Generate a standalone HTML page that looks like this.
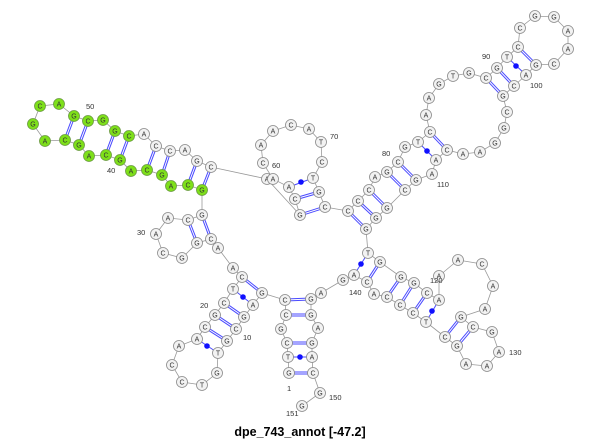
<!DOCTYPE html>
<html><head><meta charset="utf-8"><style>
html,body{margin:0;padding:0;background:#fff;}
svg{display:block;}
.n circle{fill:#f2f2f2;stroke:#8a8a8a;stroke-width:0.8;}
.g circle{fill:#7ee01a;stroke:#6a9a40;stroke-width:0.8;}
text{font-family:"Liberation Sans",sans-serif;}
.n text,.g text{font-size:7px;text-anchor:middle;fill:#333;}
.l{font-size:7.5px;fill:#333;}
</style></head><body>
<svg width="600" height="440" viewBox="0 0 600 440">
<polyline fill="none" stroke="#999" stroke-width="0.8" points="289,373 288,357 287,343 281,329 286,315 285,300 262,293 253,305 244,317 236,329 227,341 218,353 217,373 202,385 182,382 172,365 179,346 197,339 205,327 215,315 224,303 233,289 242,277 233,268 218,248 211,239 197,243 182,258 163,253 156,234 168,218 188,220 202,215 202,190 188,185 171,186 162,175 147,170 131,171 120,160 106,155 89,156 79,145 65,140 45,141 33,124 40,106 59,104 74,116 88,121 103,120 115,131 129,136 144,134 156,146 170,151 185,150 197,161 211,167 267,179 300,215 295,199 289,187 273,179 263,163 261,145 273,131 291,125 309,129 321,142 322,162 313,178 319,192 325,207 348,211 358,201 369,190 375,177 387,172 398,162 405,147 418,142 430,132 426,115 429,98 439,84 453,76 469,73 486,78 497,68 507,57 518,47 520,28 535,16 554,17 568,31 568,49 554,64 536,65 526,75 514,86 503,96 507,112 504,128 495,143 480,152 463,154 447,150 436,160 432,174 416,180 405,190 387,208 376,218 366,229 368,253 380,262 401,277 414,283 427,293 439,300 439,276 458,260 482,264 493,286 485,309 461,317 473,327 492,332 499,352 487,366 466,364 457,346 445,337 426,322 413,313 400,305 387,297 374,294 367,282 354,275 343,280 321,293 311,299 311,315 318,328 312,343 312,357 313,373 320,393 302,406"/>
<g stroke="#4a4aff" stroke-width="3">
<line x1="74" y1="116" x2="65" y2="140"/><line x1="88" y1="121" x2="79" y2="145"/><line x1="115" y1="131" x2="106" y2="155"/><line x1="129" y1="136" x2="120" y2="160"/><line x1="156" y1="146" x2="147" y2="170"/><line x1="170" y1="151" x2="162" y2="175"/><line x1="197" y1="161" x2="188" y2="185"/><line x1="211" y1="167" x2="202" y2="190"/>
<line x1="188" y1="220" x2="197" y2="243"/><line x1="202" y1="215" x2="211" y2="239"/>
<line x1="242" y1="277" x2="262" y2="293"/><line x1="224" y1="303" x2="244" y2="317"/><line x1="215" y1="315" x2="236" y2="329"/><line x1="205" y1="327" x2="227" y2="341"/>
<line x1="285" y1="300" x2="311" y2="299"/><line x1="286" y1="315" x2="311" y2="315"/><line x1="287" y1="343" x2="312" y2="343"/><line x1="289" y1="373" x2="313" y2="373"/>
<line x1="295" y1="199" x2="319" y2="192"/><line x1="300" y1="215" x2="325" y2="207"/>
<line x1="348" y1="211" x2="366" y2="229"/><line x1="358" y1="201" x2="376" y2="218"/><line x1="369" y1="190" x2="387" y2="208"/><line x1="387" y1="172" x2="405" y2="190"/><line x1="398" y1="162" x2="416" y2="180"/><line x1="430" y1="132" x2="447" y2="150"/>
<line x1="486" y1="78" x2="503" y2="96"/><line x1="497" y1="68" x2="514" y2="86"/><line x1="518" y1="47" x2="536" y2="65"/>
<line x1="380" y1="262" x2="367" y2="282"/><line x1="401" y1="277" x2="387" y2="297"/><line x1="414" y1="283" x2="400" y2="305"/><line x1="427" y1="293" x2="413" y2="313"/>
<line x1="461" y1="317" x2="445" y2="337"/><line x1="473" y1="327" x2="457" y2="346"/>
</g>
<g stroke="#fff" stroke-width="1">
<line x1="74" y1="116" x2="65" y2="140"/><line x1="88" y1="121" x2="79" y2="145"/><line x1="115" y1="131" x2="106" y2="155"/><line x1="129" y1="136" x2="120" y2="160"/><line x1="156" y1="146" x2="147" y2="170"/><line x1="170" y1="151" x2="162" y2="175"/><line x1="197" y1="161" x2="188" y2="185"/><line x1="211" y1="167" x2="202" y2="190"/>
<line x1="188" y1="220" x2="197" y2="243"/><line x1="202" y1="215" x2="211" y2="239"/>
<line x1="242" y1="277" x2="262" y2="293"/><line x1="224" y1="303" x2="244" y2="317"/><line x1="215" y1="315" x2="236" y2="329"/><line x1="205" y1="327" x2="227" y2="341"/>
<line x1="285" y1="300" x2="311" y2="299"/><line x1="286" y1="315" x2="311" y2="315"/><line x1="287" y1="343" x2="312" y2="343"/><line x1="289" y1="373" x2="313" y2="373"/>
<line x1="295" y1="199" x2="319" y2="192"/><line x1="300" y1="215" x2="325" y2="207"/>
<line x1="348" y1="211" x2="366" y2="229"/><line x1="358" y1="201" x2="376" y2="218"/><line x1="369" y1="190" x2="387" y2="208"/><line x1="387" y1="172" x2="405" y2="190"/><line x1="398" y1="162" x2="416" y2="180"/><line x1="430" y1="132" x2="447" y2="150"/>
<line x1="486" y1="78" x2="503" y2="96"/><line x1="497" y1="68" x2="514" y2="86"/><line x1="518" y1="47" x2="536" y2="65"/>
<line x1="380" y1="262" x2="367" y2="282"/><line x1="401" y1="277" x2="387" y2="297"/><line x1="414" y1="283" x2="400" y2="305"/><line x1="427" y1="293" x2="413" y2="313"/>
<line x1="461" y1="317" x2="445" y2="337"/><line x1="473" y1="327" x2="457" y2="346"/>
</g>
<g stroke="#4a4aff" stroke-width="1" fill="#1010ff">
<line x1="233" y1="289" x2="253" y2="305"/><circle cx="243" cy="297" r="2.8" stroke="none"/>
<line x1="197" y1="339" x2="218" y2="353"/><circle cx="207" cy="346" r="2.8" stroke="none"/>
<line x1="288" y1="357" x2="312" y2="357"/><circle cx="300" cy="357" r="2.8" stroke="none"/>
<line x1="289" y1="187" x2="313" y2="178"/><circle cx="301" cy="182" r="2.8" stroke="none"/>
<line x1="418" y1="142" x2="436" y2="160"/><circle cx="427" cy="151" r="2.8" stroke="none"/>
<line x1="507" y1="57" x2="526" y2="75"/><circle cx="516" cy="66" r="2.8" stroke="none"/>
<line x1="368" y1="253" x2="354" y2="275"/><circle cx="361" cy="264" r="2.8" stroke="none"/>
<line x1="439" y1="300" x2="426" y2="322"/><circle cx="432" cy="311" r="2.8" stroke="none"/>
</g>
<g class="n">
<g transform="translate(289,373)"><circle r="5.5"/><text y="2.5">G</text></g>
<g transform="translate(288,357)"><circle r="5.5"/><text y="2.5">T</text></g>
<g transform="translate(287,343)"><circle r="5.5"/><text y="2.5">C</text></g>
<g transform="translate(281,329)"><circle r="5.5"/><text y="2.5">G</text></g>
<g transform="translate(286,315)"><circle r="5.5"/><text y="2.5">C</text></g>
<g transform="translate(285,300)"><circle r="5.5"/><text y="2.5">C</text></g>
<g transform="translate(262,293)"><circle r="5.5"/><text y="2.5">G</text></g>
<g transform="translate(253,305)"><circle r="5.5"/><text y="2.5">A</text></g>
<g transform="translate(244,317)"><circle r="5.5"/><text y="2.5">G</text></g>
<g transform="translate(236,329)"><circle r="5.5"/><text y="2.5">C</text></g>
<g transform="translate(227,341)"><circle r="5.5"/><text y="2.5">G</text></g>
<g transform="translate(218,353)"><circle r="5.5"/><text y="2.5">T</text></g>
<g transform="translate(217,373)"><circle r="5.5"/><text y="2.5">G</text></g>
<g transform="translate(202,385)"><circle r="5.5"/><text y="2.5">T</text></g>
<g transform="translate(182,382)"><circle r="5.5"/><text y="2.5">C</text></g>
<g transform="translate(172,365)"><circle r="5.5"/><text y="2.5">C</text></g>
<g transform="translate(179,346)"><circle r="5.5"/><text y="2.5">A</text></g>
<g transform="translate(197,339)"><circle r="5.5"/><text y="2.5">A</text></g>
<g transform="translate(205,327)"><circle r="5.5"/><text y="2.5">C</text></g>
<g transform="translate(215,315)"><circle r="5.5"/><text y="2.5">G</text></g>
<g transform="translate(224,303)"><circle r="5.5"/><text y="2.5">C</text></g>
<g transform="translate(233,289)"><circle r="5.5"/><text y="2.5">T</text></g>
<g transform="translate(242,277)"><circle r="5.5"/><text y="2.5">C</text></g>
<g transform="translate(233,268)"><circle r="5.5"/><text y="2.5">A</text></g>
<g transform="translate(218,248)"><circle r="5.5"/><text y="2.5">A</text></g>
<g transform="translate(211,239)"><circle r="5.5"/><text y="2.5">C</text></g>
<g transform="translate(197,243)"><circle r="5.5"/><text y="2.5">G</text></g>
<g transform="translate(182,258)"><circle r="5.5"/><text y="2.5">G</text></g>
<g transform="translate(163,253)"><circle r="5.5"/><text y="2.5">C</text></g>
<g transform="translate(156,234)"><circle r="5.5"/><text y="2.5">A</text></g>
<g transform="translate(168,218)"><circle r="5.5"/><text y="2.5">A</text></g>
<g transform="translate(188,220)"><circle r="5.5"/><text y="2.5">C</text></g>
<g transform="translate(202,215)"><circle r="5.5"/><text y="2.5">G</text></g>
<g transform="translate(144,134)"><circle r="5.5"/><text y="2.5">A</text></g>
<g transform="translate(156,146)"><circle r="5.5"/><text y="2.5">C</text></g>
<g transform="translate(170,151)"><circle r="5.5"/><text y="2.5">C</text></g>
<g transform="translate(185,150)"><circle r="5.5"/><text y="2.5">A</text></g>
<g transform="translate(197,161)"><circle r="5.5"/><text y="2.5">G</text></g>
<g transform="translate(211,167)"><circle r="5.5"/><text y="2.5">C</text></g>
<g transform="translate(267,179)"><circle r="5.5"/><text y="2.5">A</text></g>
<g transform="translate(300,215)"><circle r="5.5"/><text y="2.5">G</text></g>
<g transform="translate(295,199)"><circle r="5.5"/><text y="2.5">C</text></g>
<g transform="translate(289,187)"><circle r="5.5"/><text y="2.5">A</text></g>
<g transform="translate(273,179)"><circle r="5.5"/><text y="2.5">A</text></g>
<g transform="translate(263,163)"><circle r="5.5"/><text y="2.5">C</text></g>
<g transform="translate(261,145)"><circle r="5.5"/><text y="2.5">A</text></g>
<g transform="translate(273,131)"><circle r="5.5"/><text y="2.5">A</text></g>
<g transform="translate(291,125)"><circle r="5.5"/><text y="2.5">C</text></g>
<g transform="translate(309,129)"><circle r="5.5"/><text y="2.5">A</text></g>
<g transform="translate(321,142)"><circle r="5.5"/><text y="2.5">T</text></g>
<g transform="translate(322,162)"><circle r="5.5"/><text y="2.5">C</text></g>
<g transform="translate(313,178)"><circle r="5.5"/><text y="2.5">T</text></g>
<g transform="translate(319,192)"><circle r="5.5"/><text y="2.5">G</text></g>
<g transform="translate(325,207)"><circle r="5.5"/><text y="2.5">C</text></g>
<g transform="translate(348,211)"><circle r="5.5"/><text y="2.5">C</text></g>
<g transform="translate(358,201)"><circle r="5.5"/><text y="2.5">C</text></g>
<g transform="translate(369,190)"><circle r="5.5"/><text y="2.5">C</text></g>
<g transform="translate(375,177)"><circle r="5.5"/><text y="2.5">A</text></g>
<g transform="translate(387,172)"><circle r="5.5"/><text y="2.5">G</text></g>
<g transform="translate(398,162)"><circle r="5.5"/><text y="2.5">C</text></g>
<g transform="translate(405,147)"><circle r="5.5"/><text y="2.5">G</text></g>
<g transform="translate(418,142)"><circle r="5.5"/><text y="2.5">T</text></g>
<g transform="translate(430,132)"><circle r="5.5"/><text y="2.5">C</text></g>
<g transform="translate(426,115)"><circle r="5.5"/><text y="2.5">A</text></g>
<g transform="translate(429,98)"><circle r="5.5"/><text y="2.5">A</text></g>
<g transform="translate(439,84)"><circle r="5.5"/><text y="2.5">G</text></g>
<g transform="translate(453,76)"><circle r="5.5"/><text y="2.5">T</text></g>
<g transform="translate(469,73)"><circle r="5.5"/><text y="2.5">G</text></g>
<g transform="translate(486,78)"><circle r="5.5"/><text y="2.5">C</text></g>
<g transform="translate(497,68)"><circle r="5.5"/><text y="2.5">G</text></g>
<g transform="translate(507,57)"><circle r="5.5"/><text y="2.5">T</text></g>
<g transform="translate(518,47)"><circle r="5.5"/><text y="2.5">C</text></g>
<g transform="translate(520,28)"><circle r="5.5"/><text y="2.5">C</text></g>
<g transform="translate(535,16)"><circle r="5.5"/><text y="2.5">G</text></g>
<g transform="translate(554,17)"><circle r="5.5"/><text y="2.5">G</text></g>
<g transform="translate(568,31)"><circle r="5.5"/><text y="2.5">A</text></g>
<g transform="translate(568,49)"><circle r="5.5"/><text y="2.5">A</text></g>
<g transform="translate(554,64)"><circle r="5.5"/><text y="2.5">C</text></g>
<g transform="translate(536,65)"><circle r="5.5"/><text y="2.5">G</text></g>
<g transform="translate(526,75)"><circle r="5.5"/><text y="2.5">A</text></g>
<g transform="translate(514,86)"><circle r="5.5"/><text y="2.5">C</text></g>
<g transform="translate(503,96)"><circle r="5.5"/><text y="2.5">G</text></g>
<g transform="translate(507,112)"><circle r="5.5"/><text y="2.5">C</text></g>
<g transform="translate(504,128)"><circle r="5.5"/><text y="2.5">G</text></g>
<g transform="translate(495,143)"><circle r="5.5"/><text y="2.5">G</text></g>
<g transform="translate(480,152)"><circle r="5.5"/><text y="2.5">A</text></g>
<g transform="translate(463,154)"><circle r="5.5"/><text y="2.5">A</text></g>
<g transform="translate(447,150)"><circle r="5.5"/><text y="2.5">C</text></g>
<g transform="translate(436,160)"><circle r="5.5"/><text y="2.5">A</text></g>
<g transform="translate(432,174)"><circle r="5.5"/><text y="2.5">A</text></g>
<g transform="translate(416,180)"><circle r="5.5"/><text y="2.5">G</text></g>
<g transform="translate(405,190)"><circle r="5.5"/><text y="2.5">C</text></g>
<g transform="translate(387,208)"><circle r="5.5"/><text y="2.5">G</text></g>
<g transform="translate(376,218)"><circle r="5.5"/><text y="2.5">G</text></g>
<g transform="translate(366,229)"><circle r="5.5"/><text y="2.5">G</text></g>
<g transform="translate(368,253)"><circle r="5.5"/><text y="2.5">T</text></g>
<g transform="translate(380,262)"><circle r="5.5"/><text y="2.5">G</text></g>
<g transform="translate(401,277)"><circle r="5.5"/><text y="2.5">G</text></g>
<g transform="translate(414,283)"><circle r="5.5"/><text y="2.5">G</text></g>
<g transform="translate(427,293)"><circle r="5.5"/><text y="2.5">C</text></g>
<g transform="translate(439,300)"><circle r="5.5"/><text y="2.5">A</text></g>
<g transform="translate(439,276)"><circle r="5.5"/><text y="2.5">A</text></g>
<g transform="translate(458,260)"><circle r="5.5"/><text y="2.5">A</text></g>
<g transform="translate(482,264)"><circle r="5.5"/><text y="2.5">C</text></g>
<g transform="translate(493,286)"><circle r="5.5"/><text y="2.5">A</text></g>
<g transform="translate(485,309)"><circle r="5.5"/><text y="2.5">A</text></g>
<g transform="translate(461,317)"><circle r="5.5"/><text y="2.5">G</text></g>
<g transform="translate(473,327)"><circle r="5.5"/><text y="2.5">C</text></g>
<g transform="translate(492,332)"><circle r="5.5"/><text y="2.5">G</text></g>
<g transform="translate(499,352)"><circle r="5.5"/><text y="2.5">A</text></g>
<g transform="translate(487,366)"><circle r="5.5"/><text y="2.5">A</text></g>
<g transform="translate(466,364)"><circle r="5.5"/><text y="2.5">A</text></g>
<g transform="translate(457,346)"><circle r="5.5"/><text y="2.5">G</text></g>
<g transform="translate(445,337)"><circle r="5.5"/><text y="2.5">C</text></g>
<g transform="translate(426,322)"><circle r="5.5"/><text y="2.5">T</text></g>
<g transform="translate(413,313)"><circle r="5.5"/><text y="2.5">C</text></g>
<g transform="translate(400,305)"><circle r="5.5"/><text y="2.5">C</text></g>
<g transform="translate(387,297)"><circle r="5.5"/><text y="2.5">C</text></g>
<g transform="translate(374,294)"><circle r="5.5"/><text y="2.5">A</text></g>
<g transform="translate(367,282)"><circle r="5.5"/><text y="2.5">C</text></g>
<g transform="translate(354,275)"><circle r="5.5"/><text y="2.5">A</text></g>
<g transform="translate(343,280)"><circle r="5.5"/><text y="2.5">G</text></g>
<g transform="translate(321,293)"><circle r="5.5"/><text y="2.5">A</text></g>
<g transform="translate(311,299)"><circle r="5.5"/><text y="2.5">G</text></g>
<g transform="translate(311,315)"><circle r="5.5"/><text y="2.5">G</text></g>
<g transform="translate(318,328)"><circle r="5.5"/><text y="2.5">A</text></g>
<g transform="translate(312,343)"><circle r="5.5"/><text y="2.5">G</text></g>
<g transform="translate(312,357)"><circle r="5.5"/><text y="2.5">A</text></g>
<g transform="translate(313,373)"><circle r="5.5"/><text y="2.5">C</text></g>
<g transform="translate(320,393)"><circle r="5.5"/><text y="2.5">G</text></g>
<g transform="translate(302,406)"><circle r="5.5"/><text y="2.5">G</text></g>
</g>
<g class="g">
<g transform="translate(202,190)"><circle r="5.5"/><text y="2.5">G</text></g>
<g transform="translate(188,185)"><circle r="5.5"/><text y="2.5">C</text></g>
<g transform="translate(171,186)"><circle r="5.5"/><text y="2.5">A</text></g>
<g transform="translate(162,175)"><circle r="5.5"/><text y="2.5">G</text></g>
<g transform="translate(147,170)"><circle r="5.5"/><text y="2.5">C</text></g>
<g transform="translate(131,171)"><circle r="5.5"/><text y="2.5">A</text></g>
<g transform="translate(120,160)"><circle r="5.5"/><text y="2.5">G</text></g>
<g transform="translate(106,155)"><circle r="5.5"/><text y="2.5">C</text></g>
<g transform="translate(89,156)"><circle r="5.5"/><text y="2.5">A</text></g>
<g transform="translate(79,145)"><circle r="5.5"/><text y="2.5">G</text></g>
<g transform="translate(65,140)"><circle r="5.5"/><text y="2.5">C</text></g>
<g transform="translate(45,141)"><circle r="5.5"/><text y="2.5">A</text></g>
<g transform="translate(33,124)"><circle r="5.5"/><text y="2.5">G</text></g>
<g transform="translate(40,106)"><circle r="5.5"/><text y="2.5">C</text></g>
<g transform="translate(59,104)"><circle r="5.5"/><text y="2.5">A</text></g>
<g transform="translate(74,116)"><circle r="5.5"/><text y="2.5">G</text></g>
<g transform="translate(88,121)"><circle r="5.5"/><text y="2.5">C</text></g>
<g transform="translate(103,120)"><circle r="5.5"/><text y="2.5">G</text></g>
<g transform="translate(115,131)"><circle r="5.5"/><text y="2.5">G</text></g>
<g transform="translate(129,136)"><circle r="5.5"/><text y="2.5">C</text></g>
</g>
<g class="l">
<text x="137" y="235">30</text>
<text x="107" y="173">40</text>
<text x="86" y="109">50</text>
<text x="272" y="168">60</text>
<text x="330" y="139">70</text>
<text x="382" y="156">80</text>
<text x="482" y="59">90</text>
<text x="530" y="88">100</text>
<text x="437" y="187">110</text>
<text x="430" y="283">120</text>
<text x="509" y="355">130</text>
<text x="349" y="295">140</text>
<text x="329" y="400">150</text>
<text x="286" y="416">151</text>
<text x="243" y="340">10</text>
<text x="200" y="308">20</text>
<text x="287" y="391">1</text>
</g>
<text x="300" y="436" text-anchor="middle" style="font-size:12.5px;font-weight:bold;fill:#000">dpe_743_annot [-47.2]</text>
</svg>
</body></html>
